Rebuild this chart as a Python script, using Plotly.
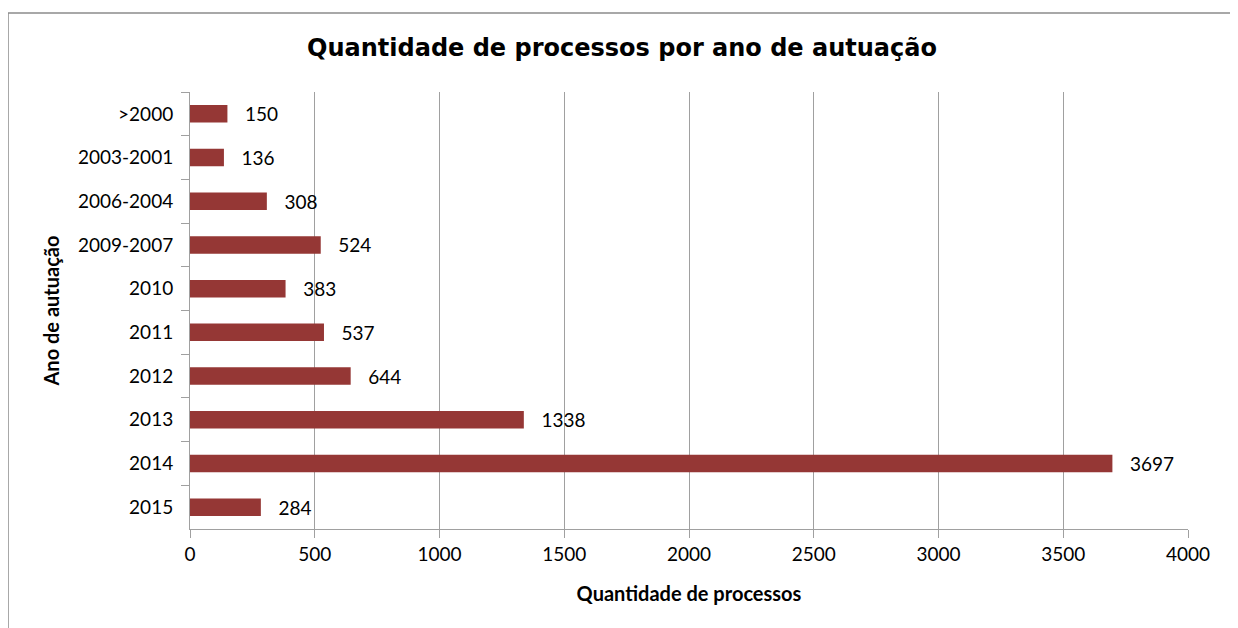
import plotly.graph_objects as go

categories = [">2000", "2003-2001", "2006-2004", "2009-2007", "2010", "2011", "2012", "2013", "2014", "2015"]
values = [150, 136, 308, 524, 383, 537, 644, 1338, 3697, 284]
x_ticks = [0, 500, 1000, 1500, 2000, 2500, 3000, 3500, 4000]

# page body has an 8px margin, so the figure starts at (8, 8) in the window
W, H = 1230, 620
L, R, T, B = 182, 50, 84, 99
pw, ph = W - L - R, H - T - B

fig = go.Figure(go.Bar(
    x=values, y=categories, orientation="h",
    marker=dict(color="#953735", line=dict(width=0)),
    text=values, texttemplate="   %{x}", textposition="outside",
    constraintext="none",
    textfont=dict(family="Lato", size=19, color="#000000"),
    cliponaxis=False,
))

fig.update_layout(
    width=W, height=H,
    margin=dict(l=L, r=R, t=T, b=B, autoexpand=False),
    paper_bgcolor="white", plot_bgcolor="white",
    bargap=0.6,
    showlegend=False,
    title=dict(text="<b>Quantidade de processos por ano de autuação</b>",
               x=(614 / W), xref="container", xanchor="center",
               y=1 - 40 / H, yref="container", yanchor="middle",
               font=dict(family="DejaVu Sans", size=24, color="#000000")),
    xaxis=dict(range=[0, 4000], tickvals=x_ticks, showgrid=True, gridcolor="#a0a0a0", gridwidth=1,
               showline=True, linecolor="#a0a0a0", linewidth=1,
               ticks="outside", ticklen=8, tickcolor="#a0a0a0",
               tickfont=dict(family="Lato", size=19, color="#000000"),
               zeroline=False,
               title=dict(text="<b>Quantidade de processos</b>", standoff=23,
                          font=dict(family="Lato", size=20, color="#000000"))),
    yaxis=dict(categoryorder="array", categoryarray=categories, autorange="reversed",
               showline=True, linecolor="#a0a0a0", linewidth=1,
               ticks="outside", ticklen=8, tickcolor="#a0a0a0", tickson="boundaries",
               ticklabelstandoff=12,
               tickfont=dict(family="Lato", size=19, color="#000000"),
               showgrid=False,
               title=dict(text="<b>Ano de autuação</b>", standoff=12,
                          font=dict(family="Lato", size=20, color="#000000"))),
)

# outer chart border
fig.add_shape(type="rect", xref="paper", yref="paper",
              x0=(0 - L) / pw, x1=(1228 - L) / pw,
              y0=(H - 640 - B) / ph, y1=(H - 5 - B) / ph,
              line=dict(color="#8c8c8c", width=1.5), fillcolor="rgba(0,0,0,0)", layer="below")

fig.write_html("out.html")
